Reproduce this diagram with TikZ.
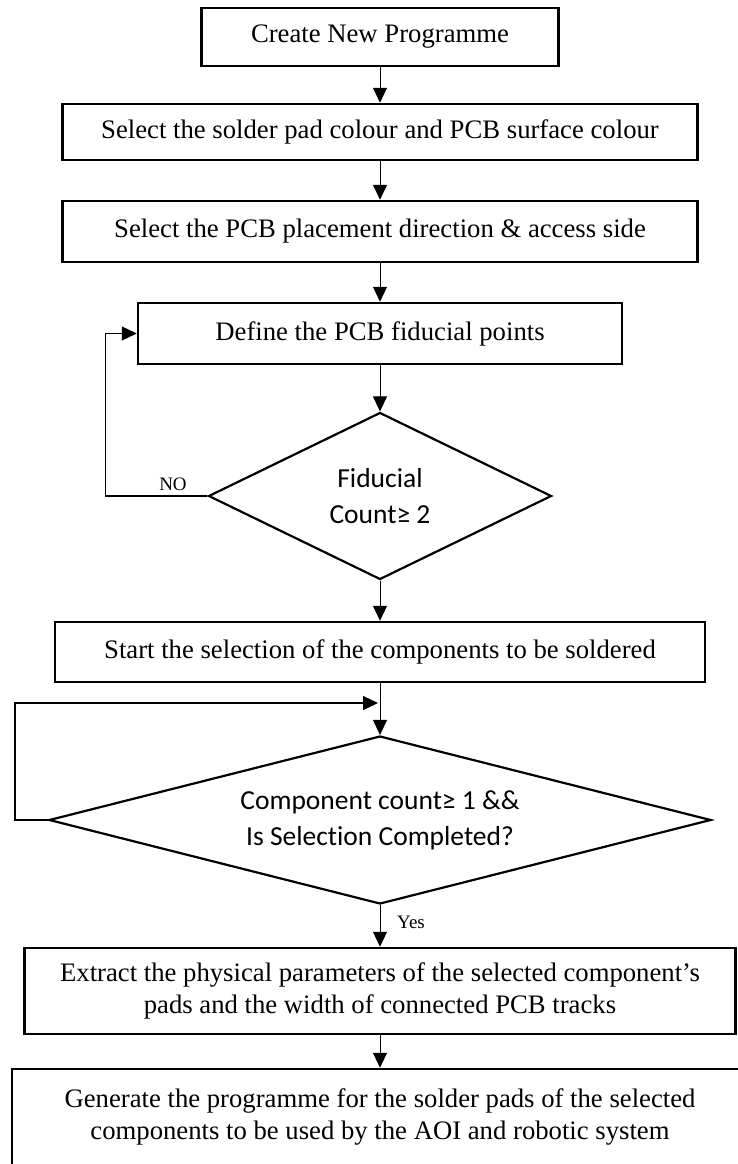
\documentclass[tikz,border=0pt]{standalone}
\usepackage{fontspec}
\setmainfont{Liberation Serif}
\newfontfamily\calfont[Ligatures={NoCommon}]{Carlito}
\usetikzlibrary{shapes.geometric,arrows.meta}

\begin{document}
\begin{tikzpicture}[x=1pt, y=-1pt, >={Triangle[length=15pt,width=14pt]},
  box/.style={draw, line width=2.5pt, inner sep=0pt, align=center,
    font=\fontsize{26.7}{32}\selectfont},
  decision/.style={draw, diamond, line width=2.2pt, inner sep=0pt, align=center,
    font=\calfont\fontsize{27.5}{36}\selectfont},
  flow/.style={->, line width=1pt},
  loopline/.style={->, line width=1.3pt},
  tag/.style={font=\fontsize{19}{22}\selectfont}]

  \useasboundingbox (0,0) rectangle (738,1164);

  % ===== 処理ボックス =====
  \node[box, minimum width=357pt, minimum height=58pt] (create) at (380,37)
    {Create New Programme};
  \node[box, minimum width=635pt, minimum height=56pt] (colour) at (380,132)
    {Select the solder pad colour and PCB surface colour};
  \node[box, minimum width=635pt, minimum height=61pt] (placement) at (380,231.5)
    {Select the PCB placement direction \& access side};
  \node[box, minimum width=484pt, minimum height=61pt] (fiducial) at (380,333.5)
    {Define the PCB fiducial points};

  % ===== 判定 (フィデューシャル) =====
  \node[decision, minimum width=343pt, minimum height=167pt, shape aspect=2.05]
    (fidcheck) at (380,496) {Fiducial\\Count≥ 2};

  \node[box, minimum width=650pt, minimum height=60pt] (select) at (380,652)
    {Start the selection of the components to be soldered};

  % ===== 判定 (部品選択) =====
  \node[decision, minimum width=662pt, minimum height=168pt, shape aspect=3.94]
    (compcheck) at (380,820) {Component count≥ 1 \&\&\\Is Selection Completed?};

  \node[box, minimum width=711pt, minimum height=86pt] (extract) at (380,991)
    {Extract the physical parameters of the selected component’s\\
     pads and the width of connected PCB tracks};
  \node[box, minimum width=736pt, minimum height=96pt] (generate) at (380,1117)
    {Generate the programme for the solder pads of the selected\\
     components to be used by the AOI and robotic system};

  % ===== 矢印 =====
  \draw[flow] (create) -- (colour);
  \draw[flow] (colour) -- (placement);
  \draw[flow] (placement) -- (fiducial);
  \draw[flow] (fiducial) -- (fidcheck);
  \draw[flow] (fidcheck) -- (select);
  \draw[flow] (select) -- (compcheck);
  \draw[flow] (compcheck) -- (extract);
  \draw[flow] (extract) -- (generate);

  % ===== 戻りループ =====
  \draw[loopline] (fidcheck.west) -- ++(-102,0) |- (fiducial.west);

  \coordinate (merge) at (378,703);
  \draw[loopline] (compcheck.west) -- ++(-33,0) |- (merge);

  % ===== ラベル =====
  \node[tag] (no) at (173,484) {NO};
  \node[tag] (yes) at (411,922) {Yes};

\end{tikzpicture}
\end{document}
